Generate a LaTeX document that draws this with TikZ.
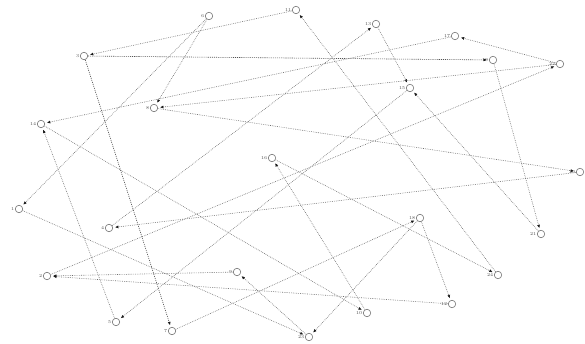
\documentclass[tikz,border=0pt]{standalone}
\usepackage{xcolor}
\usepackage{tikz}
\usetikzlibrary{arrows.meta}
\definecolor{ink}{HTML}{1A1A1A}
\definecolor{wire}{HTML}{6E6E6E}
\definecolor{ring}{HTML}{6A6A6A}
\definecolor{tag}{HTML}{4A4A4A}
\tikzset{
  vert/.style={circle,draw=ring,fill=white,line width=0.55pt,minimum size=7.5pt,inner sep=0pt},
  lbl/.style={font=\fontsize{4.5}{4.5}\selectfont,text=tag,inner sep=0.6pt},
  link/.style={draw=wire,line width=0.6pt,dash pattern=on 0.7pt off 1.1pt,shorten >=2pt,-{Latex[length=3.4pt,width=3pt,color=ink]}},
  strong/.style={link,draw=ink!75,dash pattern=on 1.1pt off 1pt}
}
\begin{document}
\begin{tikzpicture}[x=1pt,y=-1pt]
  \useasboundingbox (0,0) rectangle (585,344);

  \node[vert,label={[lbl]left:6}] (v6) at (209,16) {};
  \node[vert,label={[lbl]left:11}] (v11) at (296,10) {};
  \node[vert,label={[lbl]left:13}] (v13) at (376,24) {};
  \node[vert,label={[lbl]left:17}] (v17) at (455,36) {};
  \node[vert,label={[lbl]left:3}] (v3) at (84,56) {};
  \node[vert,label={[lbl]left:19}] (v19) at (493,60) {};
  \node[vert,label={[lbl]left:22}] (v22) at (560,64) {};
  \node[vert,label={[lbl]left:15}] (v15) at (410,88) {};
  \node[vert,label={[lbl]left:8}] (v8) at (154,108) {};
  \node[vert,label={[lbl]left:14}] (v14) at (41,124) {};
  \node[vert,label={[lbl]left:16}] (v16) at (272,158) {};
  \node[vert,label={[lbl]left:20}] (v20) at (580,172) {};
  \node[vert,label={[lbl]left:1}] (v1) at (19,209) {};
  \node[vert,label={[lbl]left:18}] (v18) at (420,218) {};
  \node[vert,label={[lbl]left:4}] (v4) at (109,228) {};
  \node[vert,label={[lbl]left:21}] (v21) at (541,234) {};
  \node[vert,label={[lbl]left:9}] (v9) at (237,272) {};
  \node[vert,label={[lbl]left:24}] (v24) at (498,275) {};
  \node[vert,label={[lbl]left:2}] (v2) at (47,276) {};
  \node[vert,label={[lbl]left:12}] (v12) at (452,304) {};
  \node[vert,label={[lbl]left:10}] (v10) at (367,313) {};
  \node[vert,label={[lbl]left:5}] (v5) at (116,322) {};
  \node[vert,label={[lbl]left:7}] (v7) at (172,331) {};
  \node[vert,label={[lbl]left:23}] (v23) at (309,337) {};

  \draw[strong] (v3)--(v19); \draw[strong] (v3)--(v7);
  \draw[link] (v11)--(v3); \draw[link] (v24)--(v11); \draw[link] (v16)--(v24);
  \draw[link] (v6)--(v8); \draw[link] (v6)--(v1);
  \draw[link] (v4)--(v13); \draw[link] (v13)--(v15); \draw[link] (v20)--(v4);
  \draw[link] (v22)--(v17); \draw[link] (v17)--(v14);
  \draw[link] (v22)--(v8); \draw[link] (v8)--(v20);
  \draw[link] (v14)--(v10); \draw[link] (v10)--(v16);
  \draw[link] (v7)--(v18); \draw[link] (v18)--(v23); \draw[link] (v18)--(v12);
  \draw[link] (v12)--(v2); \draw[link] (v9)--(v2); \draw[link] (v2)--(v22);
  \draw[link] (v19)--(v21); \draw[link] (v21)--(v15);
  \draw[link] (v15)--(v5); \draw[link] (v5)--(v14);
  \draw[link] (v1)--(v23); \draw[link] (v23)--(v9);
\end{tikzpicture}
\end{document}
